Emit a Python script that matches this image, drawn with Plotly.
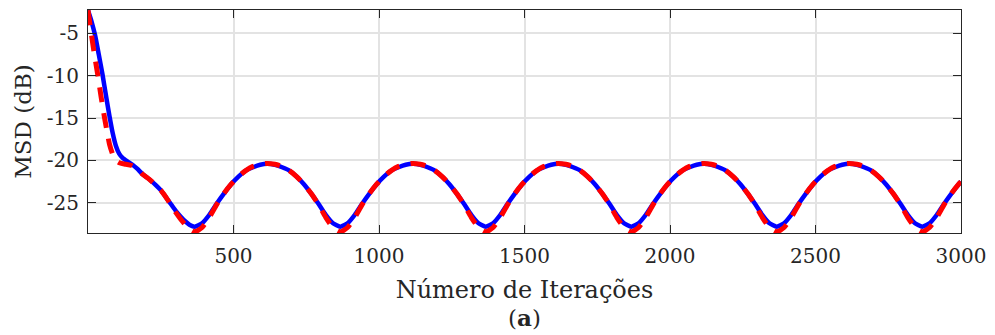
import plotly.graph_objects as go

# Initial transient (iterations, MSD dB)
x_init_blue = [0, 12, 24, 37, 50, 62, 74, 85, 96, 107, 119, 135, 153, 170, 187, 210, 233, 250, 267, 284, 301, 318, 335, 350]
y_init_blue = [-2.3, -3.6, -5.2, -7.5, -9.9, -12.4, -14.8, -16.8, -18.3, -19.2, -19.7, -20.1, -20.5, -21.0, -21.6, -22.2,
               -22.9, -23.5, -24.3, -25.1, -25.9, -26.6, -27.2, -27.6]
x_init_red = [0, 11, 22, 34, 45, 57, 66, 74, 85, 96, 110, 130, 150, 170, 187, 210, 233, 250, 267, 284, 301, 318, 335, 350]
y_init_red = [-2.3, -5.0, -7.5, -10.0, -12.5, -15.0, -16.7, -18.1, -19.3, -20.0, -20.3, -20.45, -20.6, -21.0, -21.6, -22.2,
              -22.9, -23.5, -24.3, -25.2, -26.1, -26.9, -27.6, -28.1]

# Oscillating part, sampled every 25 iterations from 367 to 2992, then 3000
x_osc = list(range(367, 3000, 25)) + [3000]
y_osc_blue = [
    -27.8, -27.4, -26.4, -25.1, -23.9, -22.8, -21.9, -21.2, -20.8, -20.5, -20.4, -20.5, -20.8, -21.2, -21.9, -22.8, -23.9, -25.1, -26.4, -27.4,
    -27.8, -27.4, -26.4, -25.1, -23.9, -22.8, -21.9, -21.2, -20.8, -20.5, -20.4, -20.5, -20.8, -21.2, -21.9, -22.8, -23.9, -25.1, -26.4, -27.4,
    -27.8, -27.4, -26.4, -25.1, -23.9, -22.8, -21.9, -21.2, -20.8, -20.5, -20.4, -20.5, -20.8, -21.2, -21.9, -22.8, -23.9, -25.1, -26.4, -27.4,
    -27.8, -27.4, -26.4, -25.1, -23.9, -22.8, -21.9, -21.2, -20.8, -20.5, -20.4, -20.5, -20.8, -21.2, -21.9, -22.8, -23.9, -25.1, -26.4, -27.4,
    -27.8, -27.4, -26.4, -25.1, -23.9, -22.8, -21.9, -21.2, -20.8, -20.5, -20.4, -20.5, -20.8, -21.2, -21.9, -22.8, -23.9, -25.1, -26.4, -27.4,
    -27.8, -27.4, -26.4, -25.1, -23.9, -22.8, -22.5,
]
y_osc_red = [
    -28.4, -27.9, -26.7, -25.2, -23.9, -22.8, -21.9, -21.2, -20.7, -20.45, -20.35, -20.45, -20.7, -21.2, -21.9, -22.8, -23.9, -25.2, -26.7, -27.9,
    -28.4, -27.9, -26.7, -25.2, -23.9, -22.8, -21.9, -21.2, -20.7, -20.45, -20.35, -20.45, -20.7, -21.2, -21.9, -22.8, -23.9, -25.2, -26.7, -27.9,
    -28.4, -27.9, -26.7, -25.2, -23.9, -22.8, -21.9, -21.2, -20.7, -20.45, -20.35, -20.45, -20.7, -21.2, -21.9, -22.8, -23.9, -25.2, -26.7, -27.9,
    -28.4, -27.9, -26.7, -25.2, -23.9, -22.8, -21.9, -21.2, -20.7, -20.45, -20.35, -20.45, -20.7, -21.2, -21.9, -22.8, -23.9, -25.2, -26.7, -27.9,
    -28.4, -27.9, -26.7, -25.2, -23.9, -22.8, -21.9, -21.2, -20.7, -20.45, -20.35, -20.45, -20.7, -21.2, -21.9, -22.8, -23.9, -25.2, -26.7, -27.9,
    -28.4, -27.9, -26.7, -25.2, -23.9, -22.8, -22.5,
]

x_ticks = [500, 1000, 1500, 2000, 2500, 3000]
y_ticks = [-25, -20, -15, -10, -5]
y_tick_text = ["-25", "-20", "-15", "-10", "-5"]

x_blue = x_init_blue + x_osc
y_blue = y_init_blue + y_osc_blue
x_red = x_init_red + x_osc
y_red = y_init_red + y_osc_red

FONT = "DejaVu Serif"
fig = go.Figure()
fig.add_trace(go.Scatter(x=x_blue, y=y_blue, mode="lines",
                         line=dict(color="#0000ff", width=4.5, shape="spline", smoothing=0.6),
                         showlegend=False))
fig.add_trace(go.Scatter(x=x_red, y=y_red, mode="lines",
                         line=dict(color="#ff0000", width=5, dash="15px,11px", shape="spline", smoothing=0.6),
                         showlegend=False))

axis_common = dict(showline=True, linecolor="#262626", linewidth=1.2, mirror="ticks",
                   ticks="inside", ticklen=8, tickcolor="#262626", tickwidth=1.2,
                   showgrid=True, gridcolor="#e3e3e3", gridwidth=1.5, zeroline=False,
                   tickfont=dict(family=FONT, size=20, color="#262626"))

fig.update_xaxes(range=[0, 3000], tickvals=x_ticks, ticktext=[str(v) for v in x_ticks],
                 ticklabelstandoff=5,
                 title=dict(text="Número de Iterações", font=dict(family=FONT, size=24, color="#262626"), standoff=14),
                 **axis_common)
fig.update_yaxes(range=[-28.55, -2.27], tickvals=y_ticks, ticktext=y_tick_text,
                 ticklabelstandoff=4,
                 title=dict(text="MSD (dB)", font=dict(family=FONT, size=23, color="#262626"), standoff=8),
                 **axis_common)

fig.add_annotation(text="(<b>a</b>)", xref="paper", yref="paper", x=0.5, y=-0.38,
                   showarrow=False, font=dict(family=FONT, size=23, color="#262626"),
                   xanchor="center", yanchor="middle")

fig.update_layout(width=995, height=335, margin=dict(l=88, r=27, t=9, b=102),
                  plot_bgcolor="white", paper_bgcolor="white")

fig.write_html("out.html")
